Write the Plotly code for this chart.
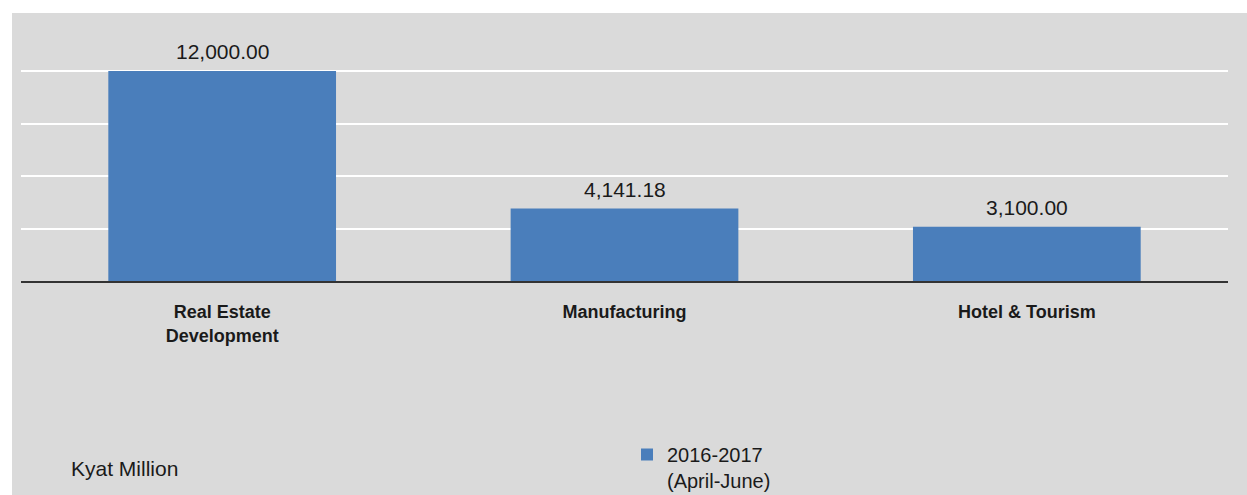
import plotly.graph_objects as go

# data
categories = ["Real Estate<br>Development", "Manufacturing", "Hotel & Tourism"]
values = [12000.00, 4141.18, 3100.00]
series_name = "2016-2017<br>(April-June)"
grid_ticks = [3000, 6000, 9000, 12000]

BAR_BLUE = "#4a7ebb"
PANEL_GRAY = "#dadada"
TEXT = "#1a1a1a"
FONT = "Liberation Sans, Arial, sans-serif"

W, H = 1247, 495
ML, MR, MT, MB = 21, 19, 15, 214
pw, ph = W - ML - MR, H - MT - MB


def px_x(p):
    return (p - ML) / pw


def px_y(p):
    return (H - MB - p) / ph


fig = go.Figure(
    go.Bar(
        x=categories,
        y=values,
        name=series_name,
        width=0.566,
        marker=dict(color=BAR_BLUE, line=dict(width=0)),
    )
)

# value labels above each bar
for c, v in zip(categories, values):
    fig.add_annotation(
        x=c, y=v, text=f"{v:,.2f}", showarrow=False,
        yanchor="bottom", yshift=6,
        font=dict(family=FONT, size=21, color=TEXT),
    )

fig.add_annotation(
    x=px_x(69), y=px_y(469), xref="paper", yref="paper",
    text="Kyat Million", showarrow=False, xanchor="left", yanchor="middle",
    font=dict(family=FONT, size=21, color=TEXT),
)

# grey panel behind everything, white strip top/left
fig.add_shape(
    type="rect", xref="paper", yref="paper", layer="below",
    x0=px_x(12), x1=px_x(W + 5), y0=px_y(H + 5), y1=px_y(13),
    fillcolor=PANEL_GRAY, line=dict(width=0),
)

fig.update_layout(
    width=W, height=H,
    margin=dict(l=ML, r=MR, t=MT, b=MB, autoexpand=False),
    paper_bgcolor="white",
    plot_bgcolor="rgba(0,0,0,0)",
    font=dict(family=FONT, color=TEXT),
    showlegend=True,
    legend=dict(
        xref="container", yref="container",
        x=627 / W, y=1 - 435 / H, xanchor="left", yanchor="top",
        valign="top",
        bgcolor="rgba(0,0,0,0)", borderwidth=0,
        font=dict(family=FONT, size=20, color=TEXT),
        itemwidth=30,
    ),
)

fig.update_xaxes(
    showline=True, linecolor="#333333", linewidth=1.5, automargin=False,
    showgrid=False, ticks="", ticklabelstandoff=14,
    tickfont=dict(family=FONT, size=18, color=TEXT, weight="bold"),
)
fig.update_yaxes(
    range=[0, ph / 210 * 12000], automargin=False,
    tickmode="array", tickvals=grid_ticks,
    showticklabels=False, showgrid=True, gridcolor="white", gridwidth=1.5,
    zeroline=False, showline=False,
)

fig.write_html(
    "out.html",
    config={"displayModeBar": False},
    post_script="document.body.style.margin='0';",
)
